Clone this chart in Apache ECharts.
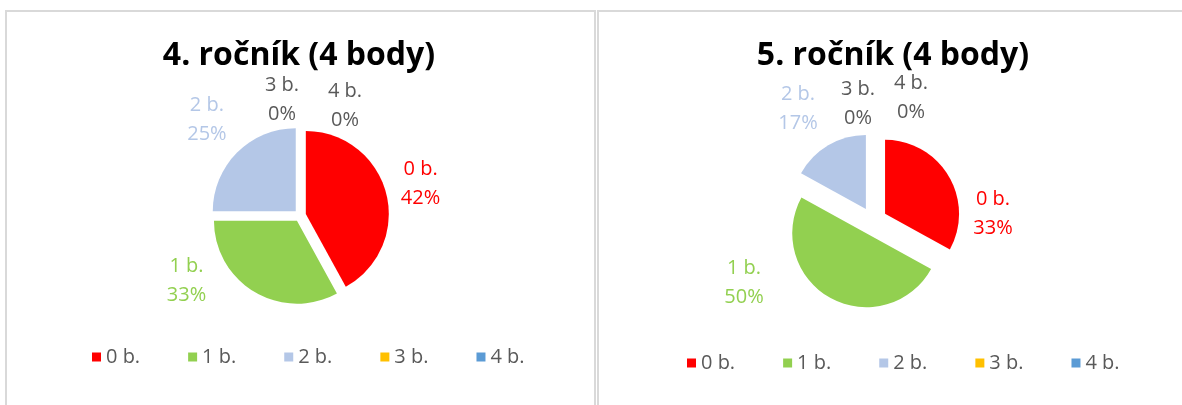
<!DOCTYPE html>
<html>
<head>
<meta charset="utf-8">
<script src="https://cdn.jsdelivr.net/npm/echarts@6/dist/echarts.min.js"></script>
<style>
    html, body { margin: 0; padding: 0; width: 1182px; height: 405px; overflow: hidden; background: #fff; }
    .panel { position: absolute; top: 10px; height: 420px; box-sizing: border-box;
             border-top: 2px solid #d9d9d9; border-left: 2px solid #d9d9d9; }
    #panel4 { left: 5px; width: 591px; border-right: 2px solid #d9d9d9; }
    #panel5 { left: 597px; width: 600px; }
    .chart { position: absolute; top: 0; height: 405px; }
    #chart4 { left: 0; width: 598px; }
    #chart5 { left: 597px; width: 592px; }
</style>
</head>
<body>
<div class="panel" id="panel4"></div>
<div class="panel" id="panel5"></div>
<div class="chart" id="chart4"></div>
<div class="chart" id="chart5"></div>
<script>
    // data (percent of pupils per score)
    var categories = ['0 b.', '1 b.', '2 b.', '3 b.', '4 b.'];
    var titles = ['4. ročník (4 body)', '5. ročník (4 body)'];
    var values4 = [42, 33, 25, 0, 0];
    var values5 = [33, 50, 17, 0, 0];

    var SLICE_COLORS = ['#FF0000', '#92D050', '#B4C7E7', '#FFC000', '#5B9BD5'];
    var LABEL_COLORS = ['#FF0000', '#92D050', '#B4C7E7', '#595959', '#595959'];
    var FONT = '"Open Sans", "Noto Sans", sans-serif';

    function buildOption(title, values, layout) {
        var data = [];
        values.forEach(function (v, i) {
            data.push({
                name: categories[i],
                value: v,
                selected: true,
                itemStyle: { color: SLICE_COLORS[i] },
                label: { color: LABEL_COLORS[i] }
            });
        });

        return {
            animation: false,
            title: {
                text: title,
                left: 'center',
                top: layout.titleTop,
                textStyle: { fontFamily: FONT, fontSize: 32, fontWeight: 'bold', color: '#000' }
            },
            legend: {
                data: categories,
                left: layout.legendLeft,
                top: layout.legendTop,
                icon: 'rect',
                itemWidth: 9,
                itemHeight: 9,
                itemGap: 48,
                textStyle: { fontFamily: FONT, fontSize: 20, color: '#595959' }
            },
            series: [{
                type: 'pie',
                center: layout.center,
                radius: layout.radius,
                startAngle: 90,
                clockwise: true,
                selectedMode: 'multiple',
                selectedOffset: layout.explode,
                avoidLabelOverlap: false,
                percentPrecision: 0,
                emphasis: { disabled: true },
                label: {
                    position: 'outside',
                    formatter: '{b}\n{d}%',
                    fontFamily: FONT,
                    fontSize: 20,
                    lineHeight: 29
                },
                labelLine: { show: false, length: 20, length2: 0 },
                // excel's "best fit" label placement, approximated by nudges
                labelLayout: function (p) {
                    var n = layout.nudge[p.dataIndex];
                    return { align: 'center', verticalAlign: 'middle', dx: n[0], dy: n[1] };
                },
                data: data
            }]
        };
    }

    var chart4 = echarts.init(document.getElementById('chart4'));
    chart4.setOption(buildOption(titles[0], values4, {
        titleTop: 35, legendLeft: 87, legendTop: 342,
        center: [300, 215.5], radius: 83, explode: 6,
        nudge: [[10, -5], [-53, -29], [-11, -19], [-13, -7], [50, -1]]
    }));

    var chart5 = echarts.init(document.getElementById('chart5'));
    chart5.setOption(buildOption(titles[1], values5, {
        titleTop: 35, legendLeft: 85, legendTop: 348,
        center: [276, 221], radius: 74, explode: 14,
        nudge: [[22, 48], [-72, -33], [-15, -19], [-20, -9], [33, -15]]
    }));
</script>
</body>
</html>
